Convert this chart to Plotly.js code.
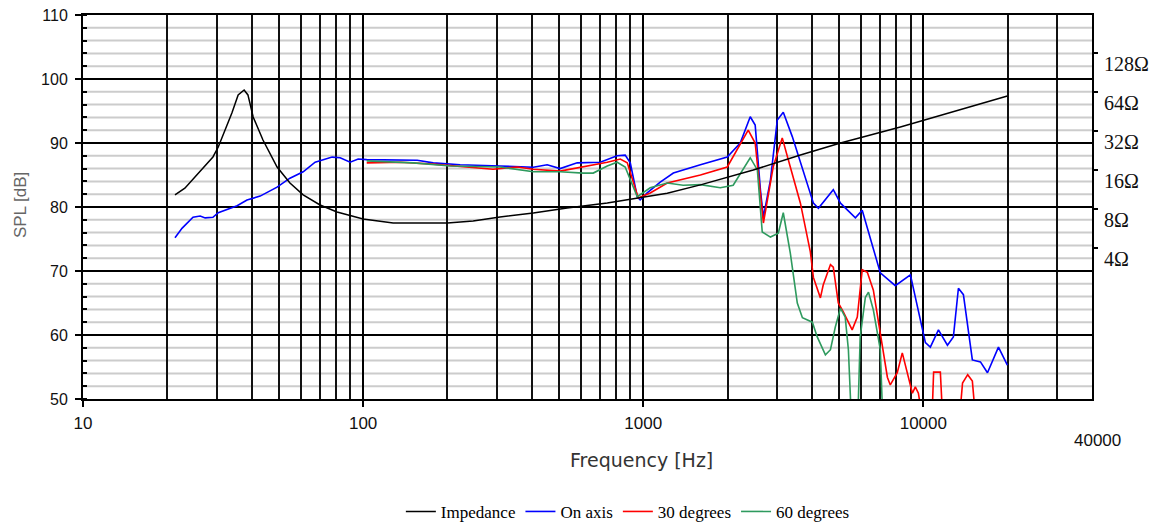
<!DOCTYPE html>
<html>
<head>
<meta charset="utf-8">
<script src="https://cdn.plot.ly/plotly-3.0.1.min.js"></script>
<style>html,body{margin:0;padding:0;background:#fff;}#chart{width:1150px;height:530px;}</style>
</head>
<body>
<div id="chart"></div>
<script>
// ---- Data ----
const impFreq = [21.3,23.1,29.1,30.4,34.0,35.8,37.6,38.8,40.5,43.9,49.3,54.8,61.1,70.2,80.7,100,128,200,247,308,405,535,744,952,1218,1600,2470,3640,5060,8280,19950];
const impOhm  = [10.3,11.6,20.2,24.1,44.1,60.8,66.4,60.8,41.1,27.3,16.9,12.7,10.3,8.6,7.6,6.7,6.25,6.25,6.47,6.95,7.46,8.15,8.9,9.74,10.6,12.3,16.0,20.9,25.9,34.4,59.7];

const onFreq = [21.3,22.6,24.7,26.2,27.3,29.1,30.4,35.5,38.5,42.9,49.3,54.8,61.1,67.4,77.5,82.8,89.9,96,103,125,156,178,222,308,405,454,505,581,702,807,862,899,952,975,1033,1150,1281,1600,1995,2220,2410,2510,2620,2685,2845,3010,3162,3405,3640,4050,4220,4770,5060,5720,6050,7020,7940,8990,10170,10590,11320,12190,12800,13340,13900,14960,15990,16940,18540,19950];
const onSpl  = [75.2,76.7,78.4,78.6,78.3,78.4,79.1,80.2,81.1,81.7,83.1,84.5,85.5,87.0,87.8,87.7,87.0,87.5,87.4,87.4,87.3,86.9,86.6,86.4,86.2,86.6,86.0,86.9,87.0,88.0,88.1,86.9,81.6,81.1,82.2,83.9,85.3,86.6,87.8,90.0,94.1,92.8,82.7,78.4,84.2,93.6,94.8,91.0,86.9,80.6,79.8,82.7,80.6,78.3,79.5,69.7,67.7,69.4,58.8,58.1,60.8,58.4,59.7,67.3,66.3,56.1,55.8,54.1,58.1,55.3];

const d30Freq = [103,136,178,235,291,355,405,505,611,744,828,877,960,1059,1218,1600,1995,2370,2510,2685,2910,3135,3350,3640,3950,4050,4290,4390,4660,4770,4970,5180,5570,5810,6050,6310,6630,7020,7440,7620,8070,8410,8770,9140,9360,9600,10000,10700,10880,11500,11780,13340,13800,14400,14960,15500];
const d30Spl  = [86.9,87.0,86.7,86.25,85.9,86.25,85.9,85.6,86.25,87.0,87.5,86.9,81.4,82.2,83.75,85.0,86.25,92.0,90.0,77.5,86.25,90.8,86.25,80.6,73.0,69.0,65.8,67.8,71.0,70.6,65.0,63.6,60.8,62.8,70.2,69.8,67.0,60.3,53.4,52.2,54.1,57.2,54.1,50.9,51.9,50.9,46,45,54.2,54.2,45,45,52.5,53.8,52.8,45];

const d60Freq = [103,151,205,308,405,505,611,663,744,807,862,952,1059,1218,1389,1600,1884,2095,2410,2555,2660,2845,3035,3162,3350,3548,3700,4015,4180,4470,4660,4850,5060,5260,5400,5570,5810,5950,6210,6370,6630,7020,7200,8000];
const d60Spl  = [87.2,86.9,86.4,86.25,85.5,85.5,85.3,85.3,86.4,87.0,86.25,81.6,83.0,83.75,83.4,83.5,83.0,83.4,87.7,85.8,76.1,75.3,75.9,79.1,72.8,65.0,62.7,62.0,59.7,56.9,57.7,61.25,64.2,62.8,57.7,44,44,59.7,65.9,66.7,63.9,57.7,44,40];

const seriesNames = ['Impedance','On axis','30 degrees','60 degrees'];

// Tick labels
const xMajor = [10,100,1000,10000];
const xMajorText = ['10','100','1000','10000'];
const xEndLabel = '40000';
const xMinor = [20,30,40,50,60,70,80,90,200,300,400,500,600,700,800,900,2000,3000,4000,5000,6000,7000,8000,9000,20000,30000,40000];
const yTicks = [50,60,70,80,90,100,110];
const yMinorGrid = [52,54,56,58,62,64,66,68,72,74,76,78,82,84,86,88,92,94,96,98,102,104,106,108];
const zTicks = [4,8,16,32,64,128];
const zTickText = ['4Ω','8Ω','16Ω','32Ω','64Ω','128Ω'];

// ---- Traces ----
const traces = [
  {x: impFreq, y: impOhm, name: seriesNames[0], yaxis: 'y2', mode: 'lines', line: {color: '#000000', width: 1.5}},
  {x: onFreq, y: onSpl, name: seriesNames[1], mode: 'lines', line: {color: '#0000ff', width: 1.6}},
  {x: d30Freq, y: d30Spl, name: seriesNames[2], mode: 'lines', line: {color: '#ff0000', width: 1.6}},
  {x: d60Freq, y: d60Spl, name: seriesNames[3], mode: 'lines', line: {color: '#2e9a5e', width: 1.6}}
];

// light-grey 2 dB grid, drawn beneath the black grid
const minorShapes = yMinorGrid.map(v => ({
  type: 'line', layer: 'below', xref: 'paper', x0: 0, x1: 1, yref: 'y', y0: v, y1: v,
  line: {color: '#cccccc', width: 2}
}));

const layout = {
  width: 1150, height: 530,
  margin: {l: 83, r: 58, t: 15, b: 131, autoexpand: false},
  paper_bgcolor: '#ffffff', plot_bgcolor: 'rgba(0,0,0,0)',
  showlegend: true,
  legend: {orientation: 'h', x: 0.54, xanchor: 'center', y: -0.294, yanchor: 'middle',
           font: {family: 'Liberation Serif', size: 17, color: '#000'}, traceorder: 'normal'},
  xaxis: {
    type: 'log', range: [1, Math.log10(40000)],
    tickmode: 'array', tickvals: xMajor, ticktext: xMajorText,
    ticks: 'outside', ticklen: 6, tickcolor: '#000', tickwidth: 2,
    showgrid: true, gridcolor: '#000', gridwidth: 2,
    minor: {tickmode: 'array', tickvals: xMinor, showgrid: true, gridcolor: '#111', gridwidth: 2, ticks: ''},
    showline: true, linecolor: '#000', linewidth: 2, mirror: true, zeroline: false,
    tickfont: {family: 'Liberation Sans', size: 17, color: '#111'},
    ticklabelstandoff: 2
  },
  yaxis: {
    range: [50, 110], tickmode: 'array', tickvals: yTicks,
    ticks: 'outside', ticklen: 6, tickcolor: '#000', tickwidth: 2,
    showgrid: true, gridcolor: '#000', gridwidth: 2,
    minor: {dtick: 2, showgrid: false, ticks: 'inside', ticklen: 4, tickcolor: '#000'},
    showline: true, linecolor: '#000', linewidth: 2, mirror: true, zeroline: false,
    tickfont: {family: 'Liberation Sans', size: 16, color: '#111'},
    ticklabelstandoff: 4
  },
  yaxis2: {
    type: 'log', overlaying: 'y', side: 'right', range: [-0.563, 2.401],
    tickmode: 'array', tickvals: zTicks, ticktext: zTickText,
    ticks: 'outside', ticklen: 5, tickcolor: '#000', tickwidth: 1.5,
    showgrid: false, zeroline: false, showline: false,
    ticklabelshift: 11, ticklabelstandoff: 2,
    tickfont: {family: 'Liberation Serif', size: 20, color: '#111'}
  },
  shapes: minorShapes,
  annotations: [
    {text: 'SPL [dB]', textangle: -90, xref: 'paper', yref: 'paper', x: -0.0624, y: 0.505,
     xanchor: 'center', yanchor: 'middle', showarrow: false,
     font: {family: 'Liberation Sans', size: 17, color: '#666'}},
    {text: 'Frequency [Hz]', xref: 'paper', yref: 'paper', x: 0.554, y: -0.159,
     xanchor: 'center', yanchor: 'middle', showarrow: false,
     font: {family: 'DejaVu Sans', size: 19, color: '#333'}},
    {text: xEndLabel, xref: 'paper', yref: 'paper', x: 1.005, y: -0.107,
     xanchor: 'center', yanchor: 'middle', showarrow: false,
     font: {family: 'Liberation Sans', size: 17, color: '#111'}}
  ]
};

Plotly.newPlot('chart', traces, layout, {staticPlot: true, displayModeBar: false});
</script>
</body>
</html>
